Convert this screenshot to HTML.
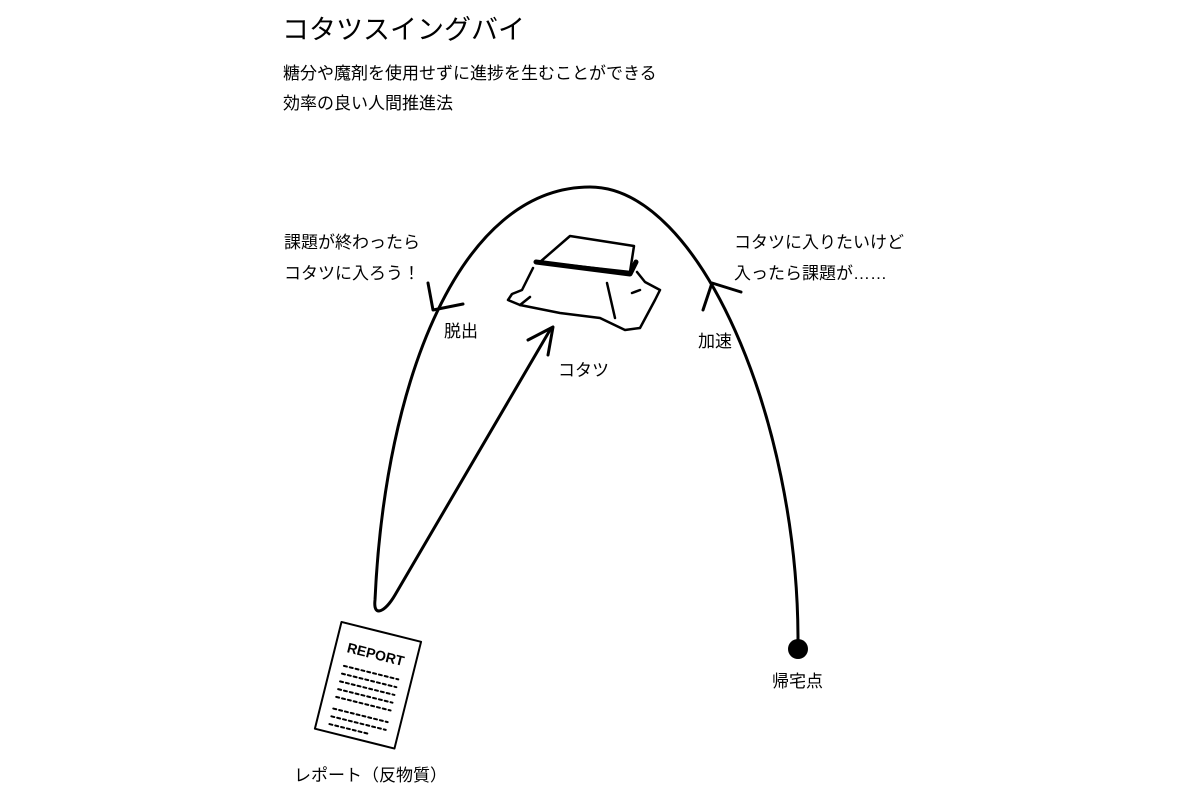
<!DOCTYPE html>
<html><head><meta charset="utf-8"><style>
body{margin:0;width:1200px;height:800px;background:#fff;position:relative;overflow:hidden;font-family:"Liberation Sans","Noto Sans CJK JP",sans-serif;color:#000}
.t{position:absolute;white-space:nowrap}
</style></head><body>
<div class="t" style="left:282px;top:8px;font-size:27px">コタツスイングバイ</div>
<div class="t" style="left:283px;top:59px;font-size:17px;line-height:30px">糖分や魔剤を使用せずに進捗を生むことができる<br>効率の良い人間推進法</div>
<div class="t" style="left:284px;top:227px;font-size:17px;line-height:31px">課題が終わったら<br>コタツに入ろう！</div>
<div class="t" style="left:734px;top:227px;font-size:17px;line-height:31px">コタツに入りたいけど<br>入ったら課題が……</div>
<div class="t" style="left:444px;top:317px;font-size:17px">脱出</div>
<div class="t" style="left:698px;top:327px;font-size:17px">加速</div>
<div class="t" style="left:558px;top:356px;font-size:17px">コタツ</div>
<div class="t" style="left:772px;top:667px;font-size:17px">帰宅点</div>
<div class="t" style="left:294px;top:761px;font-size:17px">レポート（反物質）</div>
<svg width="1200" height="800" style="position:absolute;left:0;top:0" fill="none" stroke="#000" stroke-width="3" stroke-linecap="round" stroke-linejoin="round">
<path d="M798,640 C798,420 700,187 590,187 C460,187 385,380 375,600 C373,618 385,612 395,595 L550,330"/>
<path d="M703,310 L712,283 L741,292"/>
<path d="M428,283 L433,310 L463,304"/>
<path d="M528,340 L553,327 L548,355"/>
<circle cx="798" cy="649" r="10" fill="#000" stroke="none"/>
<g stroke-width="2.5">
<path d="M570,236 L634,246 L630,272 L540,262 Z" fill="#fff"/>
<path d="M536,262 L630,274 L636,262" stroke-width="5"/>
<path d="M533,268 L522,290 L512,294 L508,300 L520,305 L560,313 L600,318 L625,330 L640,328 L655,300 L660,290 L645,282 L637,272"/>
<path d="M520,305 L530,297 M607,283 L615,318 M640,290 L632,293"/>
</g>
<g transform="rotate(14 367 685)">
<rect x="327" y="630" width="82" height="110" stroke-width="2"/>
<text x="368" y="658" font-family="Liberation Sans" font-weight="bold" font-size="14" text-anchor="middle" fill="#000" stroke="none">REPORT</text>
<g stroke-width="2" stroke-dasharray="3 3">
<path d="M340,672 H396 M340,680 H396 M340,688 H396 M340,696 H396 M340,704 H396 M340,716 H396 M340,724 H396 M340,732 H380"/>
</g>
</g>
</svg>
</body></html>
